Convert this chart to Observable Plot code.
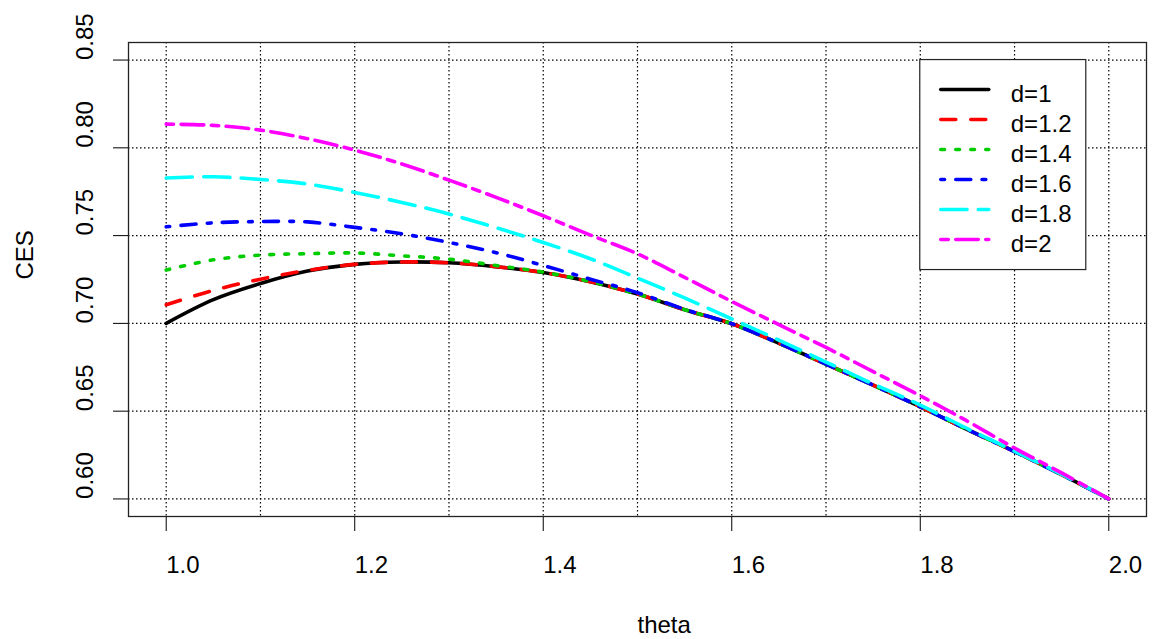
<!DOCTYPE html>
<html><head><meta charset="utf-8">
<script src="https://cdn.jsdelivr.net/npm/d3@7"></script>
<script src="https://cdn.jsdelivr.net/npm/@observablehq/plot@0.6"></script>
<style>html,body{margin:0;padding:0;background:#fff}#chart svg{display:block}</style>
</head><body><div id="chart"></div>
<script>
// ---- data ----
const theta = [1.00,1.05,1.10,1.15,1.20,1.25,1.30,1.35,1.40,1.45,1.50,1.55,1.60,1.65,1.70,1.75,1.80,1.85,1.90,1.95,2.00];
const cesD1  = [0.7000,0.7135,0.7227,0.7298,0.7336,0.7350,0.7345,0.7323,0.7290,0.7237,0.7167,0.7078,0.6998,0.6887,0.6768,0.6648,0.6525,0.6395,0.6270,0.6138,0.6000];
const cesD12 = [0.7106,0.7188,0.7252,0.7302,0.7336,0.7350,0.7345,0.7323,0.7290,0.7237,0.7167,0.7078,0.6998,0.6887,0.6768,0.6648,0.6525,0.6395,0.6270,0.6138,0.6000];
const cesD14 = [0.7304,0.7362,0.7389,0.7397,0.7401,0.7385,0.7366,0.7330,0.7292,0.7238,0.7167,0.7078,0.6998,0.6887,0.6768,0.6648,0.6525,0.6395,0.6270,0.6138,0.6000];
const cesD16 = [0.7550,0.7573,0.7580,0.7578,0.7547,0.7510,0.7461,0.7403,0.7330,0.7252,0.7175,0.7080,0.6998,0.6887,0.6768,0.6648,0.6525,0.6395,0.6270,0.6138,0.6000];
const cesD18 = [0.7828,0.7835,0.7820,0.7794,0.7746,0.7689,0.7623,0.7545,0.7461,0.7368,0.7258,0.7145,0.7025,0.6905,0.6780,0.6655,0.6535,0.6400,0.6272,0.6140,0.6000];
const cesD2  = [0.8135,0.8128,0.8101,0.8052,0.7987,0.7908,0.7816,0.7718,0.7613,0.7503,0.7396,0.7262,0.7125,0.6993,0.6863,0.6725,0.6588,0.6443,0.6290,0.6148,0.6000];
const seriesLabels = ["d=1","d=1.2","d=1.4","d=1.6","d=1.8","d=2"];
const xTicks = [1.0,1.2,1.4,1.6,1.8,2.0];
const xGrid  = [1.0,1.1,1.2,1.3,1.4,1.5,1.6,1.7,1.8,1.9,2.0];
const yTicks = [0.60,0.65,0.70,0.75,0.80,0.85];
const legendAt = {theta: 1.8, ces: 0.85};

// ---- styles ----
const seriesValues = [cesD1,cesD12,cesD14,cesD16,cesD18,cesD2];
const colors = ["#000000","#ff0000","#00cd00","#0000ff","#00ffff","#ff00ff"];
const dashes = [null,"15,15","3.75,11.25","3.75,11.25,15,11.25","26.25,11.25","7.5,7.5,22.5,7.5"];
const LW = 3.6;
const FS = 24;
const FONT = "'Liberation Sans', Arial, Helvetica, sans-serif";

const series = seriesValues.map((vals, i) => theta.map((t, j) => ({theta: t, ces: vals[j], label: seriesLabels[i]})));

const lineMarks = series.map((d, i) => Plot.line(d, {
  x: "theta", y: "ces", stroke: colors[i], strokeWidth: LW,
  strokeDasharray: dashes[i] || undefined, strokeLinecap: "round", strokeLinejoin: "round",
  curve: "catmull-rom"
}));

function legendMark(index, scales) {
  const x0 = scales.x(legendAt.theta), y0 = scales.y(legendAt.ces);
  const g = d3.create("svg:g");
  g.append("rect").attr("x", x0).attr("y", y0).attr("width", 166).attr("height", 210)
    .attr("fill", "white").attr("stroke", "#222").attr("stroke-width", 1.2);
  seriesLabels.forEach((lab, i) => {
    const yy = y0 + 30 + 30 * i;
    const ln = g.append("line").attr("x1", x0 + 21).attr("x2", x0 + 69).attr("y1", yy).attr("y2", yy)
      .attr("stroke", colors[i]).attr("stroke-width", LW).attr("stroke-linecap", "round");
    if (dashes[i]) ln.attr("stroke-dasharray", dashes[i]);
    g.append("text").attr("x", x0 + 91).attr("y", yy + 12.4)
      .attr("text-anchor", "start").style("font-size", FS + "px")
      .style("font-family", FONT).attr("fill", "black").text(lab);
  });
  return g.node();
}

const chart = Plot.plot({
  width: 1152, height: 639,
  marginLeft: 128, marginRight: 6, marginTop: 42, marginBottom: 123,
  x: {domain: [0.96, 2.04]},
  y: {domain: [0.59, 0.86]},
  style: {fontFamily: FONT, fontSize: FS + "px", color: "black", background: "white", overflow: "visible"},
  marks: [
    Plot.ruleX(xGrid, {stroke: "black", strokeDasharray: "1.5,2.5", strokeWidth: 1.2}),
    Plot.ruleY(yTicks, {stroke: "black", strokeDasharray: "1.5,2.5", strokeWidth: 1.2}),
    Plot.axisX({ticks: xTicks, tickSize: 15, tickPadding: 24, tickFormat: d3.format(".1f"),
      textAnchor: "start", lineAnchor: "top", label: null, fontSize: FS}),
    Plot.axisY({ticks: yTicks, tickSize: 15, tickPadding: 28.6, tickRotate: -90,
      textAnchor: "start", lineAnchor: "middle", tickFormat: d3.format(".2f"), label: null, fontSize: FS}),
    Plot.text(["theta"], {text: d => d, frameAnchor: "bottom", textAnchor: "start", lineAnchor: "top", dy: 99, fontSize: FS}),
    Plot.text(["CES"], {text: d => d, frameAnchor: "left", rotate: -90, textAnchor: "start", lineAnchor: "middle", dx: -103, fontSize: FS}),
    ...lineMarks,
    Plot.frame({stroke: "#222", strokeWidth: 1.3}),
    legendMark
  ]
});
document.getElementById("chart").appendChild(chart);
</script>
</body></html>
